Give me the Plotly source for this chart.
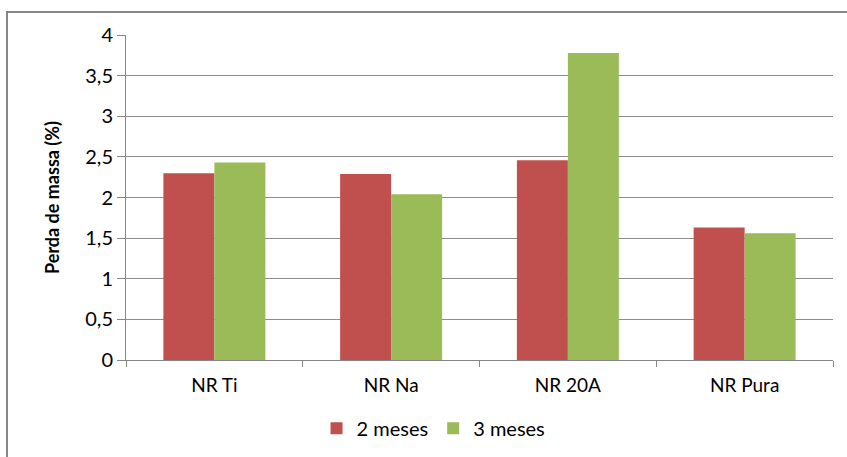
import plotly.graph_objects as go

# Mass loss per sample after 2 and 3 months
categorias = ["NR Ti", "NR Na", "NR 20A", "NR Pura"]
meses_2 = [2.30, 2.29, 2.46, 1.63]
meses_3 = [2.43, 2.04, 3.78, 1.56]
y_ticks = [0, 0.5, 1, 1.5, 2, 2.5, 3, 3.5, 4]

W, H = 847, 457
L, R, T, B = 126, 14, 35, 97

fig = go.Figure()
fig.add_trace(go.Bar(x=categorias, y=meses_2, name="2 meses",
                     marker=dict(color="#C0504D", line=dict(width=0))))
fig.add_trace(go.Bar(x=categorias, y=meses_3, name="3 meses",
                     marker=dict(color="#9BBB59", line=dict(width=0))))

pw = W - L - R
ph = H - T - B

fig.update_layout(
    width=W, height=H,
    margin=dict(l=L, r=R, t=T, b=B, autoexpand=False),
    paper_bgcolor="white", plot_bgcolor="white",
    separators=",.",
    barmode="group", bargap=0.423, bargroupgap=0,
    font=dict(family="Lato, Open Sans, sans-serif", size=18, color="#000000"),
    showlegend=True,
    legend=dict(orientation="h", x=0.435, xanchor="center", y=-0.15, yanchor="top",
                font=dict(size=20), itemwidth=30, traceorder="normal"),
    xaxis=dict(showline=True, linecolor="#868686", linewidth=1, automargin=False,
               ticks="outside", ticklen=6, tickcolor="#868686", tickson="boundaries",
               showgrid=False, tickfont=dict(size=19), ticklabelstandoff=8),
    yaxis=dict(range=[0, 4], tickvals=y_ticks, tickformat=".1~f", automargin=False,
               showline=True, linecolor="#868686", linewidth=1,
               ticks="outside", ticklen=8, tickcolor="#868686",
               showgrid=True, gridcolor="#8c8c8c", gridwidth=1,
               zeroline=False, tickfont=dict(size=20),
               title=dict(text="<b>Perda de massa (%)</b>", font=dict(size=18), standoff=20)),
    shapes=[dict(type="rect", xref="paper", yref="paper",
                 x0=(7 - L) / pw, x1=(W + 10 - L) / pw,
                 y0=-0.5, y1=(H - B - 12) / ph,
                 line=dict(color="#878787", width=2), fillcolor="rgba(0,0,0,0)", layer="below")],
)

fig.write_html("out.html")
